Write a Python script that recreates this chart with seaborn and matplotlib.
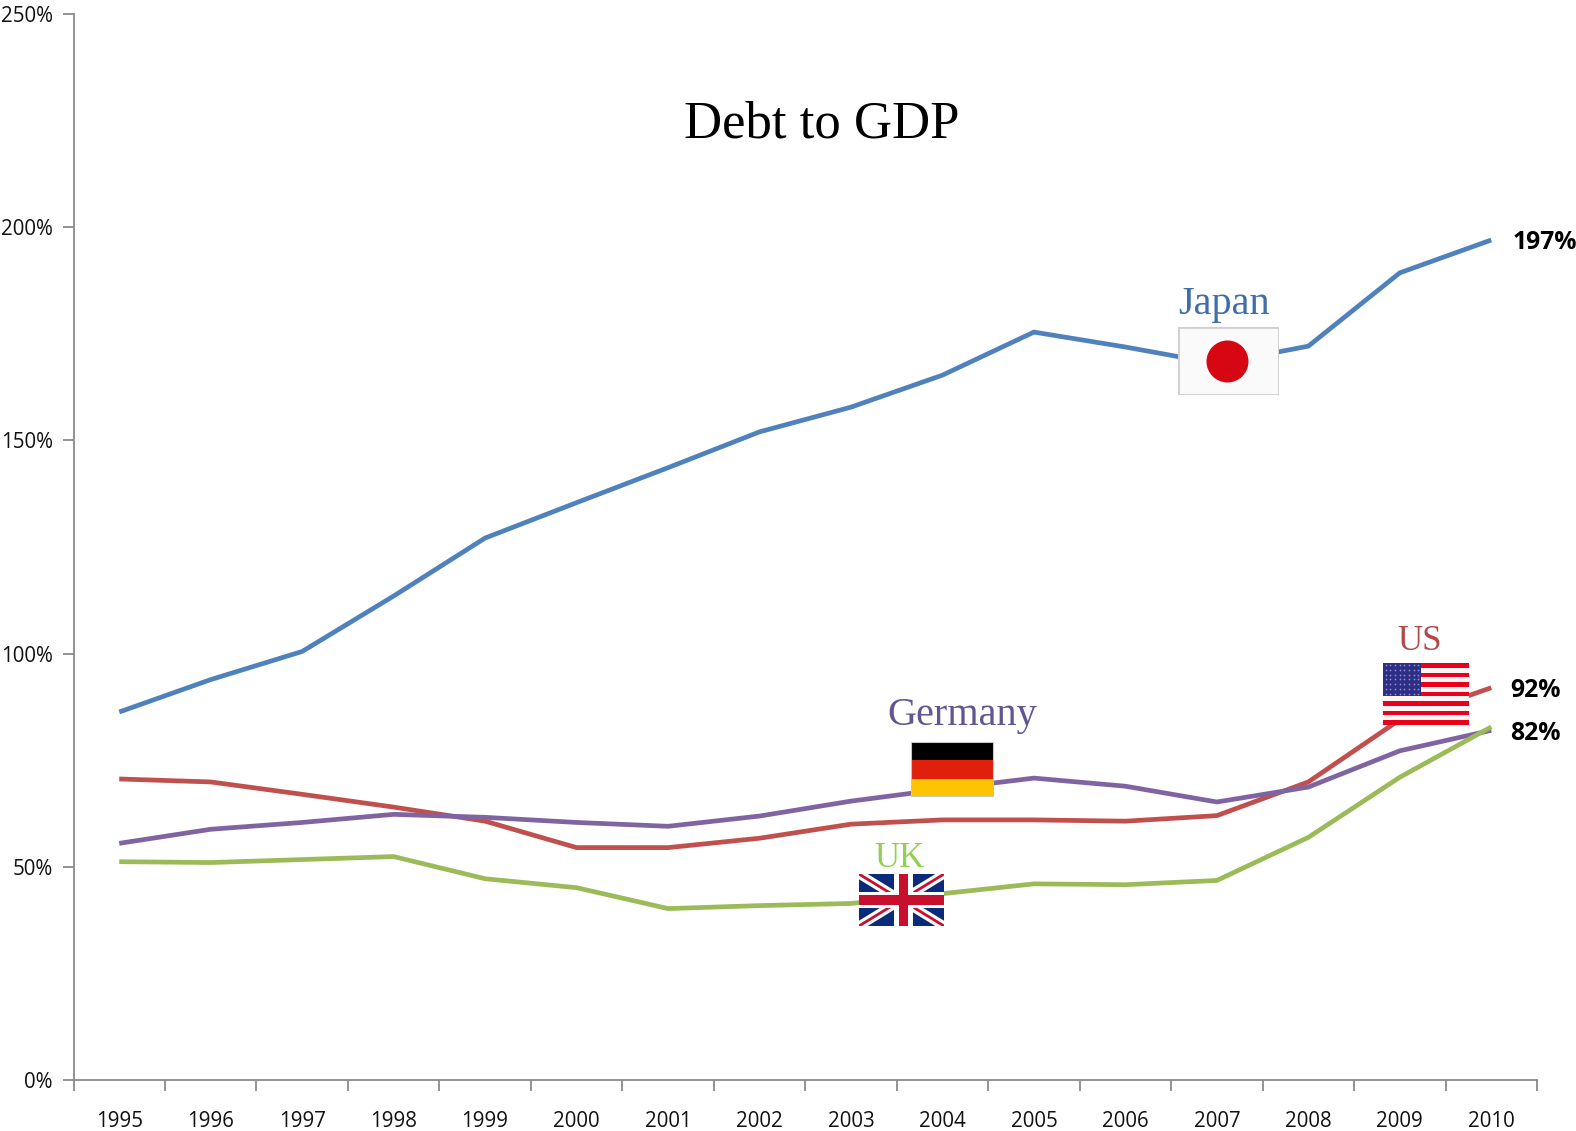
import matplotlib
matplotlib.use("Agg")
import matplotlib.pyplot as plt
from matplotlib.patches import Rectangle
from matplotlib.ticker import FixedLocator, FuncFormatter
import numpy as np
import pandas as pd
import seaborn as sns

# Government debt as a share of GDP, percent
years = [1995, 1996, 1997, 1998, 1999, 2000, 2001, 2002,
         2003, 2004, 2005, 2006, 2007, 2008, 2009, 2010]
japan = [86.3, 93.9, 100.5, 113.5, 127.1, 135.4, 143.6, 152.0,
         157.8, 165.3, 175.4, 171.9, 168.0, 172.1, 189.3, 197.0]
us = [70.6, 69.9, 67.0, 64.0, 60.7, 54.5, 54.5, 56.7,
      60.0, 61.0, 61.0, 60.7, 62.0, 69.9, 84.5, 92.0]
germany = [55.5, 58.8, 60.4, 62.3, 61.6, 60.4, 59.5, 61.9,
           65.4, 68.2, 70.8, 68.9, 65.2, 68.7, 77.2, 82.0]
uk = [51.2, 51.0, 51.7, 52.4, 47.2, 45.1, 40.2, 40.9,
      41.4, 43.7, 46.0, 45.8, 46.8, 56.9, 71.0, 82.8]
end_labels = {"Japan": "197%", "US": "92%", "Germany": "82%"}
palette = {"Japan": "#4F81BD", "US": "#C0504D", "Germany": "#8064A2", "UK": "#9BBB59"}

W, H = 1576, 1131
sns.set_theme(style="white")
plt.rcParams["font.family"] = ["Open Sans", "DejaVu Sans"]

frame = pd.DataFrame({"year": years, "Japan": japan, "US": us, "Germany": germany, "UK": uk})
long = frame.melt(id_vars="year", var_name="country", value_name="debt")


def box(left, top, right, bottom):
    """Pixel box (origin top-left) to a figure-fraction rectangle."""
    return [left / W, 1 - bottom / H, (right - left) / W, (bottom - top) / H]


fig = plt.figure(figsize=(W / 100, H / 100), dpi=100, facecolor="white")
ax = fig.add_axes(box(73.5, 14, 1537, 1080))
sns.lineplot(data=long, x="year", y="debt", hue="country", palette=palette,
             linewidth=3.4, legend=False, ax=ax, errorbar=None, sort=False)
for line in ax.get_lines():
    line.set_solid_joinstyle("miter")
    line.set_solid_capstyle("butt")

ax.set_xlim(years[0] - 0.5, years[-1] + 0.5)
ax.set_ylim(0, 250)
ax.set_xlabel("")
ax.set_ylabel("")
ax.set_xticks(years)
ax.xaxis.set_major_formatter(FuncFormatter(lambda v, _: f"{int(v)}"))
ax.xaxis.set_minor_locator(FixedLocator([y - 0.5 for y in years] + [years[-1] + 0.5]))
ax.set_yticks(range(0, 251, 50))
ax.yaxis.set_major_formatter(FuncFormatter(lambda v, _: f"{int(v)}%"))
ax.tick_params(axis="x", which="major", length=0, pad=22, labelsize=14.8, labelcolor="#111111")
ax.tick_params(axis="x", which="minor", bottom=True, length=8, width=1.3, color="#8A8A8A")
ax.tick_params(axis="y", which="major", left=True, length=8, width=1.3, color="#8A8A8A",
               pad=7, labelsize=14.8, labelcolor="#111111")
for name, spine in ax.spines.items():
    spine.set_visible(name in ("left", "bottom"))
    spine.set_color("#8A8A8A")
    spine.set_linewidth(1.3)

# Closing values beside the right-hand ends of the lines
last = frame.iloc[-1]
for country, text in end_labels.items():
    gap = 21 if country == "Japan" else 19
    ax.annotate(text, xy=(last["year"], last[country]), xytext=(gap, -3),
                textcoords="offset pixels", va="center", ha="left", fontsize=17.8,
                fontweight="bold", color="black", annotation_clip=False)

serif = ["Liberation Serif", "DejaVu Serif"]
fig.text(822 / W, 1 - 125 / H, "Debt to GDP", family=serif, fontsize=38,
         ha="center", va="center", color="black")
for text, px, py, col, size in [("Japan", 1224, 314, "#3F6EA8", 29),
                                ("US", 1419, 650, "#B04A48", 25),
                                ("Germany", 962, 725, "#63558F", 29),
                                ("UK", 899, 867, "#92D050", 25)]:
    fig.text(px / W, 1 - py / H, text, family=serif, fontsize=size,
             ha="center", va="baseline", color=col)


def flag_axes(left, top, right, bottom):
    a = fig.add_axes(box(left, top, right, bottom), zorder=5)
    a.set_xlim(0, 1)
    a.set_ylim(0, 1)
    a.axis("off")
    return a


# Japan
a = flag_axes(1178, 327, 1279, 395)
a.add_patch(Rectangle((0, 0), 1, 1, fc="#FAFAFA", ec="#CFCFCF", lw=2))
a.scatter([0.49], [0.495], s=(42 * 0.72) ** 2, color="#D70613", linewidths=0, zorder=3)

# United States
a = flag_axes(1383, 663, 1469, 725)
for i in range(13):
    a.add_patch(Rectangle((0, 1 - (i + 1) / 13), 1, 1 / 13,
                          fc="#E8001C" if i % 2 == 0 else "#FFF4F4", lw=0))
a.add_patch(Rectangle((0, 6 / 13), 0.44, 7 / 13, fc="#2E2E86", lw=0, zorder=2))
sx, sy = np.meshgrid(np.linspace(0.03, 0.41, 8), np.linspace(0.5, 0.97, 7))
a.scatter(sx.ravel(), sy.ravel(), s=1.6, color="#8E90C8", linewidths=0, zorder=3)

# Germany
a = flag_axes(911, 742, 994, 797)
for i, c in enumerate(["#FFC400", "#E0200C", "#000000"]):
    a.add_patch(Rectangle((0, i / 3), 1, 1 / 3, fc=c, lw=0))
a.add_patch(Rectangle((0, 0), 1, 1, fc="none", ec="#C8C8B8", lw=1.5))

# United Kingdom
a = flag_axes(859, 874, 944, 926)
a.add_patch(Rectangle((0, 0), 1, 1, fc="#0A2A7A", lw=0))
a.plot([0, 1], [0, 1], color="white", lw=6.5, solid_capstyle="butt", zorder=2)
a.plot([0, 1], [1, 0], color="white", lw=6.5, solid_capstyle="butt", zorder=2)
a.plot([0, 1], [0, 1], color="#C8102E", lw=2, solid_capstyle="butt", zorder=3)
a.plot([0, 1], [1, 0], color="#C8102E", lw=2, solid_capstyle="butt", zorder=3)
a.add_patch(Rectangle((0.41, 0), 0.22, 1, fc="white", lw=0, zorder=4))
a.add_patch(Rectangle((0, 0.34), 1, 0.32, fc="white", lw=0, zorder=4))
a.add_patch(Rectangle((0.47, 0), 0.107, 1, fc="#C8102E", lw=0, zorder=5))
a.add_patch(Rectangle((0, 0.40), 1, 0.2, fc="#C8102E", lw=0, zorder=5))

fig.savefig("out.png", dpi=100, facecolor="white")
